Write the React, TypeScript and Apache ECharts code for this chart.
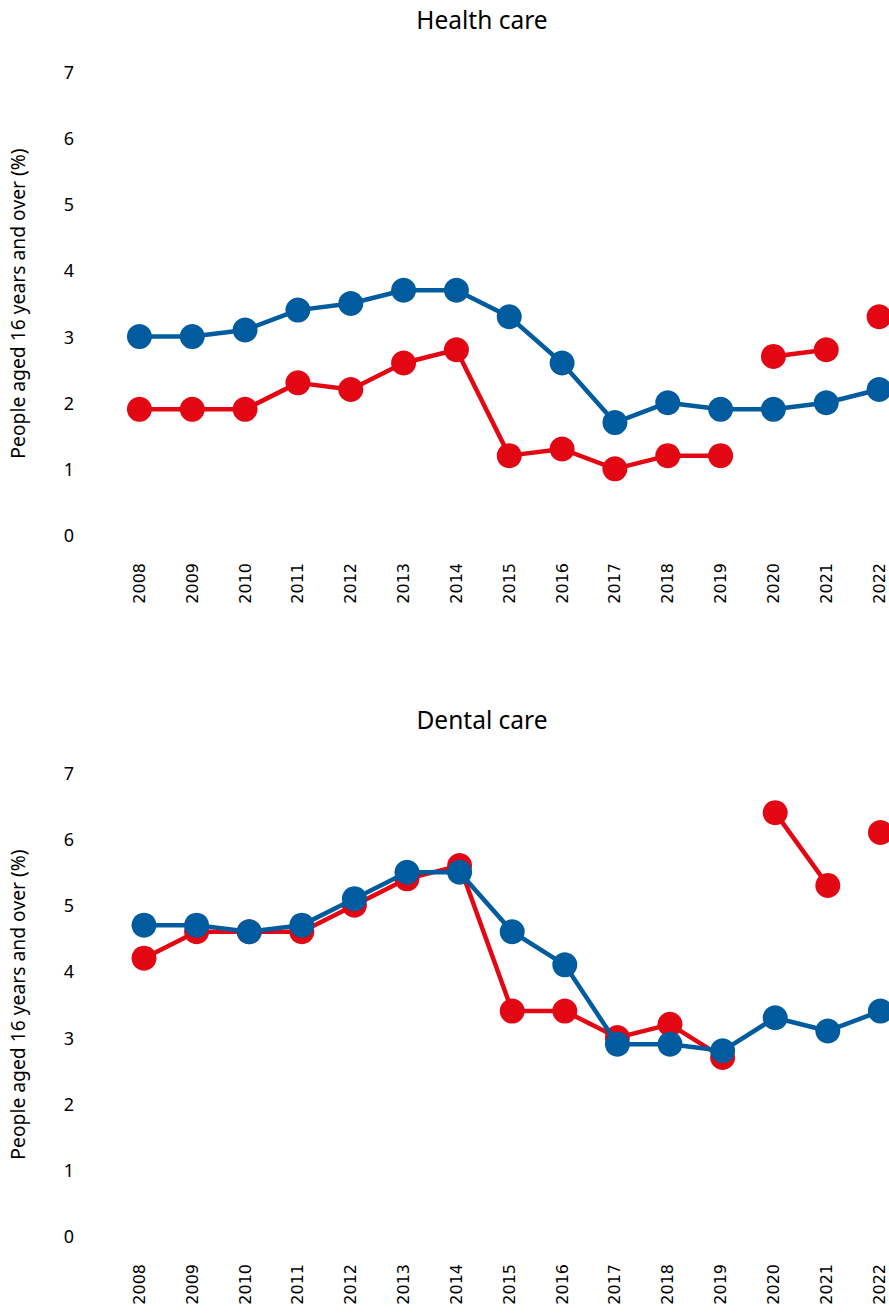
import React, { useEffect, useRef } from "react";
import * as echarts from "echarts";

const years = ["2008", "2009", "2010", "2011", "2012", "2013", "2014", "2015", "2016", "2017", "2018", "2019", "2020", "2021", "2022"];
const healthBlue = [3.0, 3.0, 3.1, 3.4, 3.5, 3.7, 3.7, 3.3, 2.6, 1.7, 2.0, 1.9, 1.9, 2.0, 2.2];
const healthRed = [1.9, 1.9, 1.9, 2.3, 2.2, 2.6, 2.8, 1.2, 1.3, 1.0, 1.2, 1.2, 2.7, 2.8, 3.3];
const dentalBlue = [4.7, 4.7, 4.6, 4.7, 5.1, 5.5, 5.5, 4.6, 4.1, 2.9, 2.9, 2.8, 3.3, 3.1, 3.4];
const dentalRed = [4.2, 4.6, 4.6, 4.6, 5.0, 5.4, 5.6, 3.4, 3.4, 3.0, 3.2, 2.7, 6.4, 5.3, 6.1];
const redBreaksAfter = ["2019", "2021"];
const titles = ["Health care", "Dental care"];
const yAxisName = "People aged 16 years and over (%)";

const RED = "#e30613";
const BLUE = "#005c9e";

function splitSegments(values: number[], breaks: string[]) {
  const segs: (number | string)[][] = [];
  let cur: (number | string)[] = years.map(() => "-");
  let has = false;
  years.forEach((y, i) => {
    cur[i] = values[i];
    has = true;
    if (breaks.includes(y)) {
      segs.push(cur);
      cur = years.map(() => "-");
      has = false;
    }
  });
  if (has) segs.push(cur);
  return segs;
}

export default function App() {
  const ref = useRef<HTMLDivElement>(null);
  useEffect(() => {
    if (!ref.current) return;
    const chart = echarts.init(ref.current, undefined, { renderer: "svg" });
    const lineSeries = (data: (number | string)[], color: string, axisIdx: number, z: number) => ({
      type: "line",
      xAxisIndex: axisIdx,
      yAxisIndex: axisIdx,
      data,
      symbol: "circle",
      symbolSize: 25,
      showSymbol: true,
      connectNulls: false,
      z,
      lineStyle: { color, width: 4.5 },
      itemStyle: { color, borderWidth: 0 },
      emphasis: { disabled: true },
    });
    const series: any[] = [];
    splitSegments(healthRed, redBreaksAfter).forEach((d) => series.push(lineSeries(d, RED, 0, 2)));
    series.push(lineSeries(healthBlue, BLUE, 0, 3));
    splitSegments(dentalRed, redBreaksAfter).forEach((d) => series.push(lineSeries(d, RED, 2, 2)));
    series.push(lineSeries(dentalBlue, BLUE, 2, 3));

    const xLabel = {
      rotate: 90,
      margin: 28,
      fontFamily: "DejaVu Sans",
      fontSize: 16,
      color: "#000",
    };
    const xBase = (gridIndex: number, showLabel: boolean) => ({
      type: "category",
      gridIndex,
      data: years,
      boundaryGap: true,
      axisLine: { show: false },
      axisTick: { show: false },
      splitLine: { show: false },
      axisLabel: { ...xLabel, show: showLabel },
    });
    const yBase = (gridIndex: number, show: boolean) => ({
      type: "value",
      gridIndex,
      min: 0,
      max: 7,
      interval: 1,
      show,
      name: show ? yAxisName : "",
      nameLocation: "middle",
      nameGap: 86,
      nameTextStyle: { fontFamily: "Noto Sans", fontSize: 19.3, color: "#000" },
      axisLine: { show: false },
      axisTick: { show: false },
      splitLine: { show: false },
      axisLabel: { margin: 39, fontFamily: "Noto Sans", fontSize: 18, color: "#000" },
    });

    chart.setOption({
      animation: false,
      backgroundColor: "#fff",
      title: titles.map((t, i) => ({
        text: t,
        left: 482,
        top: 7 + i * 700,
        textAlign: "center",
        padding: 0,
        textStyle: { fontFamily: "Noto Sans", fontSize: 24.5, fontWeight: "normal", color: "#000" },
      })),
      grid: [
        { left: 110.5, top: 72, width: 795, height: 463 },
        { left: 110.5, top: 773, width: 795, height: 463 },
        { left: 117.7, top: 773, width: 789, height: 463 },
      ],
      xAxis: [xBase(0, true), xBase(1, true), xBase(2, false)],
      yAxis: [yBase(0, true), yBase(1, true), { ...yBase(2, false), show: false }],
      series,
    });
    return () => chart.dispose();
  }, []);
  return (
    <div style={{ position: "absolute", left: 0, top: 0, width: 889, height: 1313, overflow: "hidden" }}>
      <div ref={ref} style={{ width: 940, height: 1313 }} />
    </div>
  );
}
